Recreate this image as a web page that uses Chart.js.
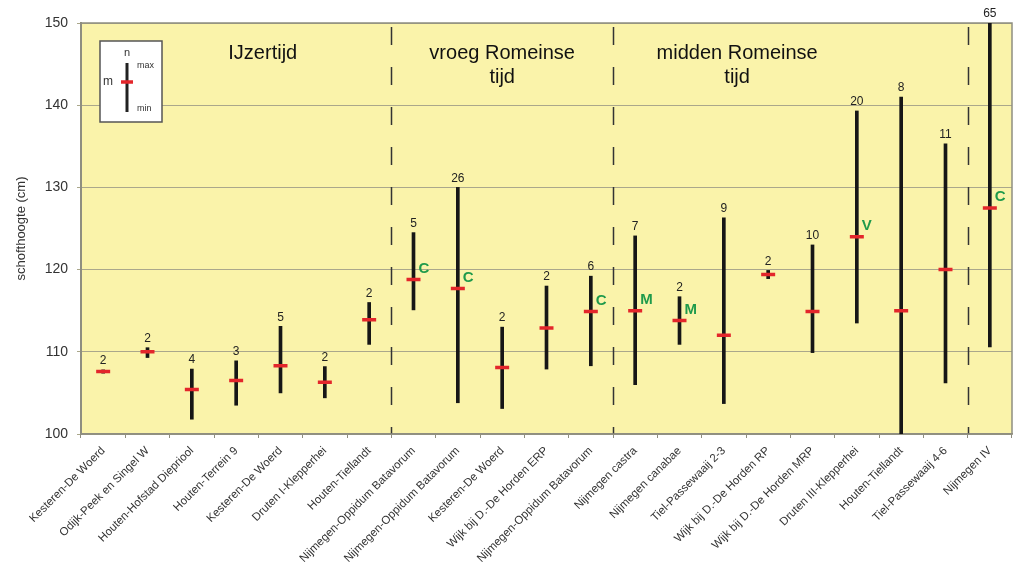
<!DOCTYPE html>
<html><head><meta charset="utf-8">
<script src="https://cdn.jsdelivr.net/npm/chart.js@4"></script>
<style>html,body{margin:0;padding:0;background:#fff}#wrap{width:1017px;height:564px}</style>
</head><body><div id="wrap"><canvas id="c" width="1017" height="564"></canvas></div>
<script>
const categories = ['Kesteren-De Woerd','Odijk-Peek en Singel W','Houten-Hofstad Diepriool','Houten-Terrein 9','Kesteren-De Woerd','Druten I-Klepperhei','Houten-Tiellandt','Nijmegen-Oppidum Batavorum','Nijmegen-Oppidum Batavorum','Kesteren-De Woerd','Wijk bij D.-De Horden ERP','Nijmegen-Oppidum Batavorum','Nijmegen castra','Nijmegen canabae','Tiel-Passewaaij 2-3','Wijk bij D.-De Horden RP','Wijk bij D.-De Horden MRP','Druten III-Klepperhei','Houten-Tiellandt','Tiel-Passewaaij 4-6','Nijmegen IV'];
const minValues  = [107.4,109.3,101.8,103.5,105.0,104.4,110.9,115.1,103.8,103.1,107.9,108.3,106.0,110.9,103.7,118.9,109.9,113.5,100.0,106.2,110.6];
const maxValues  = [107.8,110.5,107.9,108.9,113.1,108.2,116.0,124.5,130.0,113.0,118.0,119.2,124.1,116.7,126.3,119.9,123.0,139.3,141.0,135.3,150.0];
const meanValues = [107.6,110.0,105.4,106.5,108.3,106.3,113.9,118.8,117.7,108.1,112.9,114.9,115.0,113.8,112.0,119.4,114.9,124.0,115.0,120.0,127.5];
const nCounts    = [2,2,4,3,5,2,2,5,26,2,2,6,7,2,9,2,10,20,8,11,65];
const codes      = ['','','','','','','','C','C','','','C','M','M','','','','V','','','C'];
const periods    = [['IJzertijd'],['vroeg Romeinse','tijd'],['midden Romeinse','tijd']];
const periodStarts = [0,7,12,20];
const yTicks = [100,110,120,130,140,150];

const FONT = '"Liberation Sans", Arial, sans-serif';

const decor = {
  id:'decor',
  beforeDraw(chart){
    const {ctx, chartArea:a} = chart;
    ctx.save();
    ctx.fillStyle='#fff'; ctx.fillRect(0,0,chart.width,chart.height);
    ctx.fillStyle='#faf3aa'; ctx.fillRect(a.left,a.top,a.right-a.left,a.bottom-a.top);
    ctx.restore();
  },
  beforeDatasetsDraw(chart){
    const {ctx, chartArea:a, scales:{x,y}} = chart;
    ctx.save();
    ctx.strokeStyle='#333'; ctx.lineWidth=1.5; ctx.setLineDash([18,22]);
    periodStarts.slice(1).forEach(s=>{
      const px = Math.round(x.getPixelForValue(s-0.5))+0.5;
      ctx.beginPath(); ctx.moveTo(px,a.top+4); ctx.lineTo(px,a.bottom); ctx.stroke();
    });
    ctx.restore();
    ctx.save();
    ctx.strokeStyle='#8f8e80'; ctx.lineWidth=1.5;
    ctx.strokeRect(a.left,a.top,a.right-a.left,a.bottom-a.top);
    ctx.restore();
  },
  afterDatasetsDraw(chart){
    const {ctx, chartArea:a, scales:{x,y}} = chart;
    ctx.save();
    ctx.fillStyle='#222'; ctx.font='12px '+FONT; ctx.textAlign='center'; ctx.textBaseline='bottom';
    nCounts.forEach((n,i)=>{
      ctx.fillText(String(n), x.getPixelForValue(i), y.getPixelForValue(maxValues[i])-3);
    });
    ctx.fillStyle='#1f9a4b'; ctx.font='bold 15px '+FONT; ctx.textAlign='left'; ctx.textBaseline='middle';
    codes.forEach((c,i)=>{
      if(!c) return;
      ctx.fillText(c, x.getPixelForValue(i)+5, y.getPixelForValue(meanValues[i])-11);
    });
    const pos = [3.6, 9.0, 14.3];
    ctx.fillStyle='#111'; ctx.font='20px '+FONT; ctx.textAlign='center'; ctx.textBaseline='middle';
    periods.forEach((lines,k)=>{
      const px = x.getPixelForValue(pos[k]);
      lines.forEach((t,j)=>ctx.fillText(t, px, a.top+30+j*24));
    });
    const lx=a.left+19, ly=a.top+18;
    ctx.fillStyle='#fff'; ctx.fillRect(lx,ly,62,81);
    ctx.strokeStyle='#555'; ctx.lineWidth=1.5; ctx.strokeRect(lx,ly,62,81);
    ctx.strokeStyle='#222'; ctx.lineWidth=3;
    ctx.beginPath(); ctx.moveTo(lx+27,ly+22); ctx.lineTo(lx+27,ly+71); ctx.stroke();
    ctx.strokeStyle='#e3262b'; ctx.lineWidth=3.5;
    ctx.beginPath(); ctx.moveTo(lx+21,ly+41); ctx.lineTo(lx+33,ly+41); ctx.stroke();
    ctx.fillStyle='#333'; ctx.textBaseline='middle';
    ctx.font='11px '+FONT; ctx.textAlign='center'; ctx.fillText('n', lx+27, ly+12);
    ctx.font='12px '+FONT; ctx.fillText('m', lx+8, ly+41);
    ctx.font='9px '+FONT; ctx.textAlign='left';
    ctx.fillText('max', lx+37, ly+25); ctx.fillText('min', lx+37, ly+68);
    ctx.restore();
  }
};

new Chart(document.getElementById('c'), {
  type:'bar',
  data:{
    labels: categories,
    datasets:[
      { type:'line', label:'m', data: meanValues, showLine:false, pointStyle:'line',
        pointRadius:7, pointHoverRadius:7, pointBorderWidth:3.5, pointHoverBorderWidth:3.5,
        borderColor:'#e3262b', backgroundColor:'#e3262b', order:0 },
      { type:'bar', label:'range', data: minValues.map((m,i)=>[m,maxValues[i]]),
        backgroundColor:'#161616', barThickness:3, grouped:false, order:1 }
    ]
  },
  options:{
    responsive:false, animation:false, devicePixelRatio:1,
    layout:{autoPadding:false, padding:{left:0,top:23,right:5,bottom:0}},
    plugins:{legend:{display:false}, tooltip:{enabled:false}},
    scales:{
      x:{
        afterFit(s){ s.height = 130; s.paddingRight = 0; s.paddingLeft = 0; },
        grid:{display:true, offset:true, drawOnChartArea:false, tickLength:4, color:'#8f8e80'},
        border:{color:'#8f8e80', width:1.5},
        ticks:{autoSkip:false, minRotation:45, maxRotation:45, padding:6, color:'#333', font:{family:FONT, size:11.5}}
      },
      y:{
        min:yTicks[0], max:yTicks[yTicks.length-1],
        afterFit(s){ s.width = 81; },
        afterBuildTicks(s){ s.ticks = yTicks.map(v=>({value:v})); },
        grid:{color:'#aaa78b', lineWidth:1, tickLength:4},
        border:{color:'#8f8e80', width:2},
        ticks:{padding:9, color:'#333', font:{family:FONT, size:14}},
        title:{display:true, text:'schofthoogte (cm)', color:'#333', font:{family:FONT, size:13}, padding:{top:14,bottom:0}}
      }
    }
  },
  plugins:[decor]
});
</script></body></html>
